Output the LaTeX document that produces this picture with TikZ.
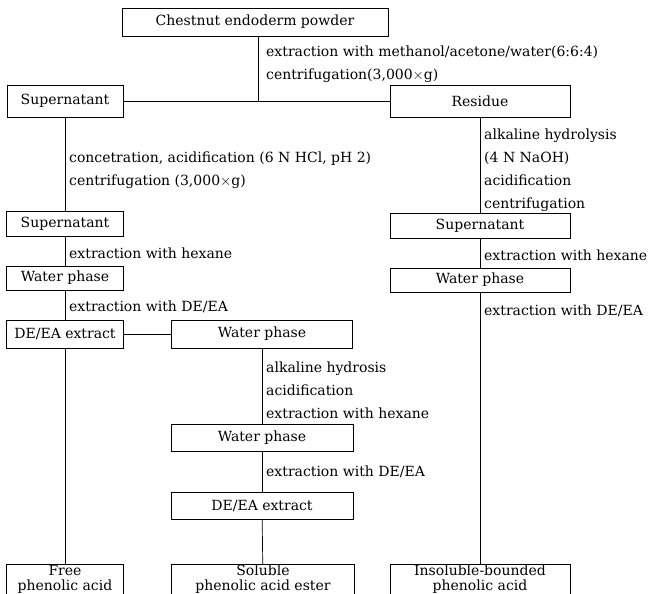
\documentclass[tikz,border=0pt]{standalone}
\usepackage{fontspec}
\setmainfont{DejaVu Serif}
\usetikzlibrary{positioning}

\tikzset{
  box/.style={draw, line width=0.7pt, inner sep=0pt, align=center,
    font=\fontsize{14pt}{18pt}\selectfont},
  endbox/.style={box, minimum height=35pt, text depth=9pt,
    font=\fontsize{14pt}{15pt}\selectfont},
  lbl/.style={anchor=west, inner sep=0pt, align=left,
    font=\fontsize{14pt}{23pt}\selectfont},
  link/.style={line width=0.7pt}
}

\begin{document}
\begin{tikzpicture}[x=1pt, y=-1pt]
  \useasboundingbox (0,0) rectangle (649,594);
  \node[box, minimum width=266pt, minimum height=28pt] (chest) at (255,22) {Chestnut endoderm powder};
  \node[box, minimum width=116pt, minimum height=32pt] (sup1) at (65,101) {Supernatant};
  \node[box, minimum width=180pt, minimum height=32pt] (res) at (480,101) {Residue};
  \node[box, minimum width=117pt, minimum height=25pt] (sup2) at (65,224) {Supernatant};
  \node[box, minimum width=180pt, minimum height=25pt] (sup3) at (480,226) {Supernatant};
  \node[box, minimum width=117pt, minimum height=24pt] (wat1) at (65,278) {Water phase};
  \node[box, minimum width=180pt, minimum height=24pt] (wat4) at (480,280) {Water phase};
  \node[box, minimum width=117pt, minimum height=28pt] (dee1) at (65,334) {DE/EA extract};
  \node[box, minimum width=181pt, minimum height=28pt] (wat2) at (262,334) {Water phase};
  \node[box, minimum width=182pt, minimum height=27pt] (wat3) at (262,438) {Water phase};
  \node[box, minimum width=182pt, minimum height=27pt] (dee2) at (262,506) {DE/EA extract};
  \node[endbox, minimum width=117pt] (free) at (65,582) {Free\\phenolic acid};
  \node[endbox, minimum width=183pt] (sol) at (263,582) {Soluble\\phenolic acid ester};
  \node[endbox, minimum width=180pt] (ins) at (480,582) {Insoluble-bounded\\phenolic acid};

  \coordinate (jn) at (258,101);
  \draw[link] (chest.south -| jn) -- (jn);
  \draw[link] (sup1) -- (res);
  \draw[link] (sup1) -- (sup2);
  \draw[link] (sup2) -- (wat1);
  \draw[link] (wat1) -- (dee1);
  \draw[link] (dee1) -- (free);
  \draw[link] (dee1) -- (wat2);
  \draw[link] (wat2) -- (wat3);
  \draw[link] (wat3) -- (dee2);
  \draw[link] (dee2) -- (sol);
  \draw[link] (res) -- (sup3);
  \draw[link] (sup3) -- (wat4);
  \draw[link] (wat4) -- (ins);

  \node[lbl] (l1) at (266,64) {extraction with methanol/acetone/water(6:6:4)\\centrifugation(3,000$\times$g)};
  \node[lbl] (l2) at (69,170) {concetration, acidification (6 N HCl, pH 2)\\centrifugation (3,000$\times$g)};
  \node[lbl] (l3) at (484,170) {alkaline hydrolysis\\(4 N NaOH)\\acidification\\centrifugation};
  \node[lbl] (l4) at (69,253) {extraction with hexane};
  \node[lbl] (l5) at (484,255) {extraction with hexane};
  \node[lbl] (l6) at (69,307) {extraction with DE/EA};
  \node[lbl] (l7) at (484,311) {extraction with DE/EA};
  \node[lbl] (l8) at (266,390) {alkaline hydrosis\\acidification\\extraction with hexane};
  \node[lbl] (l9) at (266,472) {extraction with DE/EA};
\end{tikzpicture}
\end{document}
